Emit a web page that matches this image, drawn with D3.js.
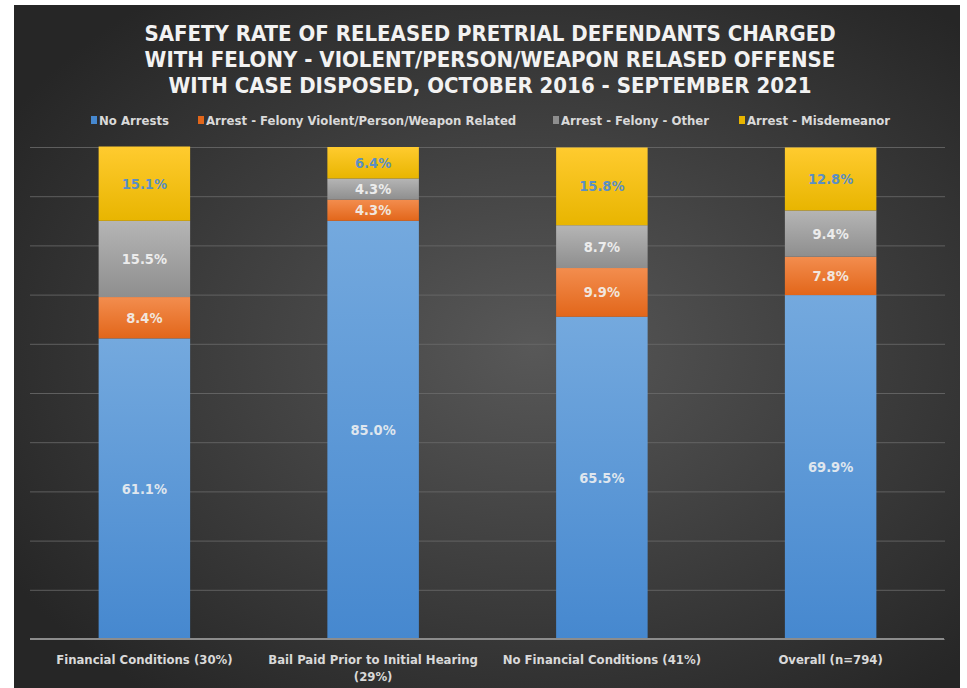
<!DOCTYPE html>
<html>
<head>
<meta charset="utf-8">
<script src="https://cdn.jsdelivr.net/npm/d3@7"></script>
<style>
  body { margin: 0; background: #fff; }
  svg { display: block; }
</style>
</head>
<body>
<svg id="svg"></svg>
<script>
let width = 967, height = 688;

// data
let categories = ["Financial Conditions (30%)", "Bail Paid Prior to Initial Hearing (29%)", "No Financial Conditions (41%)", "Overall (n=794)"];
let seriesNames = ["No Arrests", "Arrest - Felony Violent/Person/Weapon Related", "Arrest - Felony - Other", "Arrest - Misdemeanor"];
let noArrests = [61.1, 85.0, 65.5, 69.9];
let felonyViolent = [8.4, 4.3, 9.9, 7.8];
let felonyOther = [15.5, 4.3, 8.7, 9.4];
let misdemeanor = [15.1, 6.4, 15.8, 12.8];
let titleLines = ["SAFETY RATE OF RELEASED PRETRIAL DEFENDANTS CHARGED", "WITH FELONY - VIOLENT/PERSON/WEAPON RELASED OFFENSE", "WITH CASE DISPOSED, OCTOBER 2016 - SEPTEMBER 2021"];

let colors = [
  { top: "#74a9de", bottom: "#4688cf", label: "#dfe6ee" },
  { top: "#f38d4e", bottom: "#e2661a", label: "#f1e6de" },
  { top: "#b5b5b5", bottom: "#8e8e8e", label: "#ececec" },
  { top: "#ffcb2f", bottom: "#e8b500", label: "#5b8fc4" }
];

let margin = { top: 147, right: 22, bottom: 49, left: 30 };
let font = "'DejaVu Sans Condensed', 'Liberation Sans Narrow', 'DejaVu Sans', sans-serif";

let rows = categories.map((c, i) => ({
  cat: c, s0: noArrests[i], s1: felonyViolent[i], s2: felonyOther[i], s3: misdemeanor[i]
}));
let keys = ["s0", "s1", "s2", "s3"];
let stacked = d3.stack().keys(keys)(rows);

let svg = d3.select("#svg").attr("width", width).attr("height", height);
let defs = svg.append("defs");

// background
let bg = defs.append("radialGradient").attr("id", "bg")
  .attr("cx", "55%").attr("cy", "50%").attr("r", "65%");
bg.append("stop").attr("offset", "0%").attr("stop-color", "#585858");
bg.append("stop").attr("offset", "100%").attr("stop-color", "#262626");
svg.append("rect").attr("x", 14).attr("y", 5).attr("width", 946).attr("height", 683).attr("fill", "url(#bg)");

colors.forEach((c, i) => {
  let g = defs.append("linearGradient").attr("id", "grad" + i).attr("x1", 0).attr("y1", 0).attr("x2", 0).attr("y2", 1);
  g.append("stop").attr("offset", "0%").attr("stop-color", c.top);
  g.append("stop").attr("offset", "100%").attr("stop-color", c.bottom);
});

let plotW = width - margin.left - margin.right;
let plotH = height - margin.top - margin.bottom;

let xScale = d3.scaleBand().domain(categories).range([0, plotW]).paddingInner(0.6).paddingOuter(0.3);
let yScale = d3.scaleLinear().domain([0, 100]).range([plotH, 0]);

let container = svg.append("g").attr("transform", `translate(${margin.left}, ${margin.top})`);

// gridlines
container.append("g")
  .call(d3.axisLeft(yScale).ticks(10).tickSize(-plotW).tickFormat(""))
  .call(g => g.select(".domain").remove())
  .call(g => g.selectAll("line").attr("stroke", "#6b6b6b").attr("stroke-width", 1).attr("opacity", 0.8));

// bars
let layers = container.selectAll("g.layer")
  .data(stacked)
  .join("g")
  .attr("class", "layer")
  .attr("fill", (d, i) => `url(#grad${i})`);

layers.selectAll("rect")
  .data(d => d)
  .join("rect")
  .attr("x", d => xScale(d.data.cat))
  .attr("y", d => yScale(d[1]))
  .attr("width", xScale.bandwidth())
  .attr("height", d => yScale(d[0]) - yScale(d[1]));

// segment labels
stacked.forEach((layer, i) => {
  container.append("g").selectAll("text")
    .data(layer)
    .join("text")
    .attr("x", d => xScale(d.data.cat) + xScale.bandwidth() / 2)
    .attr("y", d => (yScale(d[0]) + yScale(d[1])) / 2)
    .attr("dy", "0.35em")
    .attr("text-anchor", "middle")
    .attr("fill", colors[i].label)
    .style("font-family", font)
    .style("font-weight", "bold")
    .style("font-size", "14.5px")
    .text(d => d3.format(".1f")(d[1] - d[0]) + "%");
});

// x axis
let xAxis = container.append("g").attr("transform", `translate(0, ${plotH})`);
xAxis.append("line").attr("x1", 0).attr("x2", plotW - 1).attr("y1", 0).attr("y2", 0)
  .attr("stroke", "#8c8c8c").attr("stroke-width", 2);

let xLabelLines = [["Financial Conditions (30%)"], ["Bail Paid Prior to Initial Hearing", "(29%)"], ["No Financial Conditions (41%)"], ["Overall (n=794)"]];
categories.forEach((c, i) => {
  let t = xAxis.append("text")
    .attr("x", xScale(c) + xScale.bandwidth() / 2)
    .attr("y", 25)
    .attr("text-anchor", "middle")
    .attr("fill", "#d9d9d9")
    .style("font-family", font)
    .style("font-weight", "bold")
    .style("font-size", "13px");
  xLabelLines[i].forEach((line, j) => {
    t.append("tspan").attr("x", xScale(c) + xScale.bandwidth() / 2).attr("dy", j === 0 ? 0 : 17).text(line);
  });
});

// title
svg.append("g").selectAll("text")
  .data(titleLines)
  .join("text")
  .attr("x", 490)
  .attr("y", (d, i) => 41 + i * 26)
  .attr("text-anchor", "middle")
  .attr("fill", "#f2f2f2")
  .style("font-family", font)
  .style("font-weight", "bold")
  .style("font-size", "22px")
  .style("letter-spacing", "0px")
  .text(d => d);

// legend
let legendX = [91, 198, 553, 739];
let legend = svg.append("g");
seriesNames.forEach((name, i) => {
  let g = legend.append("g").attr("transform", `translate(${legendX[i]}, 120)`);
  g.append("rect").attr("x", 0).attr("y", -4).attr("width", 6).attr("height", 8).attr("fill", colors[i].bottom);
  g.append("text").attr("x", 8).attr("y", 0).attr("dy", "0.35em")
    .attr("fill", "#d9d9d9")
    .style("font-family", font)
    .style("font-weight", "bold")
    .style("font-size", "13px")
    .text(name);
});
</script>
</body>
</html>
